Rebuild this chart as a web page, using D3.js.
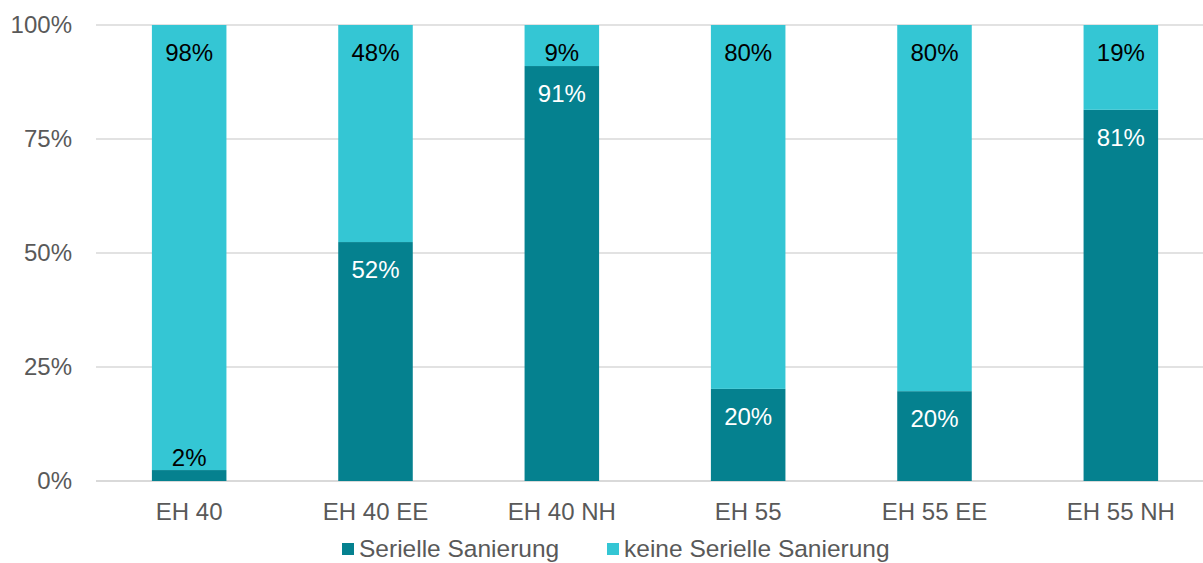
<!DOCTYPE html>
<html>
<head>
<meta charset="utf-8">
<script src="https://cdn.jsdelivr.net/npm/d3@7"></script>
<style>
  body { margin: 0; background: #fff; }
  svg { display: block; font-family: "Liberation Sans", Arial, sans-serif; }
</style>
</head>
<body>
<script>
// categories and shares (in %)
var categories = ["EH 40", "EH 40 EE", "EH 40 NH", "EH 55", "EH 55 EE", "EH 55 NH"];
var seriell = [2.4, 52.4, 91.0, 20.2, 19.7, 81.4];
var keine = [97.6, 47.6, 9.0, 79.8, 80.3, 18.6];
var yTicks = [0, 25, 50, 75, 100];
var seriesNames = ["Serielle Sanierung", "keine Serielle Sanierung"];
var colors = ["#05818f", "#34c6d4"];

var W = 1203, H = 563;
var margin = { top: 25, right: -11, bottom: 82, left: 96 };
var width = W - margin.left - margin.right,
    height = H - margin.top - margin.bottom;

var svg = d3.select("body").append("svg")
    .attr("width", W)
    .attr("height", H);

var g = svg.append("g")
    .attr("transform", "translate(" + margin.left + "," + margin.top + ")");

var xScale = d3.scaleBand()
    .domain(categories)
    .range([0, width])
    .paddingInner(0.6)
    .paddingOuter(0.3);

var yScale = d3.scaleLinear()
    .domain([0, 100])
    .range([height, 0]);

// gridlines
g.selectAll(".grid")
    .data(yTicks)
    .enter().append("line")
    .attr("x1", 0).attr("x2", width)
    .attr("y1", function (d) { return yScale(d) })
    .attr("y2", function (d) { return yScale(d) })
    .attr("stroke", "#d9d9d9")
    .attr("stroke-width", function (d) { return d == 0 ? 2 : 1.5 });

// y labels
g.selectAll(".ylab")
    .data(yTicks)
    .enter().append("text")
    .attr("x", -24)
    .attr("y", function (d) { return yScale(d) })
    .attr("dy", "0.35em")
    .attr("text-anchor", "end")
    .attr("font-size", "24px")
    .attr("fill", "#595959")
    .text(function (d) { return d + "%" });

// x labels
g.selectAll(".xlab")
    .data(categories)
    .enter().append("text")
    .attr("x", function (d) { return xScale(d) + xScale.bandwidth() / 2 })
    .attr("y", height + 31)
    .attr("dy", "0.35em")
    .attr("text-anchor", "middle")
    .attr("font-size", "24px")
    .attr("fill", "#595959")
    .text(function (d) { return d });

var rows = categories.map(function (c, i) {
    return { cat: c, s: seriell[i], k: keine[i] };
});

// Serielle segment
g.selectAll(".bar-s")
    .data(rows)
    .enter().append("rect")
    .attr("x", function (d) { return xScale(d.cat) })
    .attr("width", xScale.bandwidth())
    .attr("y", function (d) { return yScale(d.s) })
    .attr("height", function (d) { return height - yScale(d.s) })
    .attr("fill", colors[0]);

// keine segment
g.selectAll(".bar-k")
    .data(rows)
    .enter().append("rect")
    .attr("x", function (d) { return xScale(d.cat) })
    .attr("width", xScale.bandwidth())
    .attr("y", function (d) { return yScale(d.s + d.k) })
    .attr("height", function (d) { return yScale(d.s) - yScale(d.s + d.k) })
    .attr("fill", colors[1]);

// labels keine
g.selectAll(".lab-k")
    .data(rows)
    .enter().append("text")
    .attr("x", function (d) { return xScale(d.cat) + xScale.bandwidth() / 2 })
    .attr("y", function (d) { return yScale(d.s + d.k) + 36 })
    .attr("text-anchor", "middle")
    .attr("font-size", "24px")
    .attr("fill", "#000")
    .text(function (d) { return Math.round(d.k) + "%" });

// labels seriell (small ones sit above the segment)
g.selectAll(".lab-s")
    .data(rows)
    .enter().append("text")
    .attr("x", function (d) { return xScale(d.cat) + xScale.bandwidth() / 2 })
    .attr("y", function (d) {
        var top = yScale(d.s);
        return (height - top) < 30 ? top - 4 : top + 36;
    })
    .attr("text-anchor", "middle")
    .attr("font-size", "24px")
    .attr("fill", function (d) { return (height - yScale(d.s)) < 30 ? "#000" : "#fff" })
    .text(function (d) { return Math.round(d.s) + "%" });

// legend
var legend = svg.append("g").attr("transform", "translate(342," + 548 + ")");
var lx = [0, 265];
seriesNames.forEach(function (name, i) {
    legend.append("rect")
        .attr("x", lx[i]).attr("y", -5)
        .attr("width", 12).attr("height", 12)
        .attr("fill", colors[i]);
    legend.append("text")
        .attr("x", lx[i] + 17).attr("y", 0)
        .attr("dy", "0.35em")
        .attr("font-size", "24.5px")
        .attr("fill", "#595959")
        .text(name);
});
</script>
</body>
</html>
